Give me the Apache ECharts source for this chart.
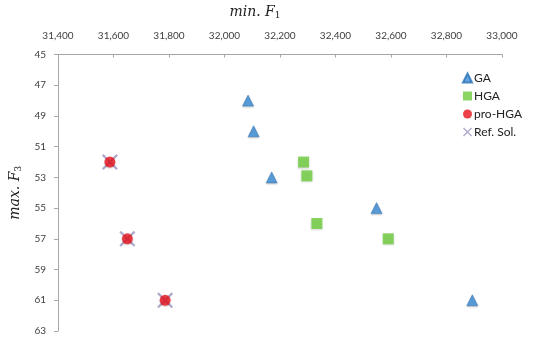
<!DOCTYPE html>
<html>
<head>
<meta charset="utf-8">
<script src="https://cdn.jsdelivr.net/npm/echarts@6/dist/echarts.min.js"></script>
<style>html,body{margin:0;padding:0;background:#fff}#c{width:550px;height:343px}</style>
</head>
<body>
<div id="c"></div>
<script>
var xTicks = { min: 31400, max: 33000, interval: 200 };
var yTicks = { min: 45, max: 63, interval: 2 };
var seriesNames = ['GA', 'HGA', 'pro-HGA', 'Ref. Sol.'];
var gaData = [[32085, 48], [32105, 50], [32170, 53], [32548, 55], [32893, 61]];
var hgaData = [[32285, 52], [32297, 52.9], [32333, 56], [32590, 57]];
var proHgaData = [[31587, 52], [31650, 57], [31786, 61]];
var refSolData = [[31587, 52], [31650, 57], [31786, 61]];

var font = 'Lato';
var chart = echarts.init(document.getElementById('c'));
chart.setOption({
  animation: false,
  backgroundColor: '#fff',
  grid: { left: 58, right: 48, top: 52, bottom: 12 },
  legend: {
    orient: 'vertical',
    left: 457, top: 67,
    itemWidth: 9, itemHeight: 9, itemGap: 6,
    textStyle: { fontFamily: font, fontSize: 12, color: '#222', padding: [0, 0, 0, -3] },
    data: seriesNames
  },
  xAxis: {
    type: 'value', position: 'top',
    min: xTicks.min, max: xTicks.max, interval: xTicks.interval,
    name: '{i|min. F}{s|1}', nameLocation: 'middle', nameGap: 34,
    nameTextStyle: {
      padding: [0, 50, 0, 0],
      rich: {
        i: { fontFamily: 'DejaVu Serif', fontStyle: 'italic', fontSize: 14, color: '#222' },
        s: { fontFamily: 'DejaVu Serif', fontSize: 9, color: '#222', padding: [8, 0, 0, 0] }
      }
    },
    axisLine: { lineStyle: { color: '#a6a6a6', width: 1 } },
    axisTick: { inside: true, length: 3, lineStyle: { color: '#a6a6a6' } },
    splitLine: { show: false },
    axisLabel: {
      fontFamily: font, fontSize: 10, color: '#404040', margin: 14,
      formatter: function (v) { return v.toLocaleString('en-US'); }
    }
  },
  yAxis: {
    type: 'value', inverse: true,
    min: yTicks.min, max: yTicks.max, interval: yTicks.interval,
    name: '{i|max. F}{s|3}', nameLocation: 'middle', nameGap: 30, nameRotate: 90,
    nameTextStyle: {
      rich: {
        i: { fontFamily: 'DejaVu Serif', fontStyle: 'italic', fontSize: 14, color: '#222' },
        s: { fontFamily: 'DejaVu Serif', fontSize: 9, color: '#222', padding: [8, 0, 0, 0] }
      }
    },
    axisLine: { lineStyle: { color: '#a6a6a6', width: 1 } },
    axisTick: { length: 4, lineStyle: { color: '#a6a6a6' } },
    splitLine: { show: false },
    axisLabel: { fontFamily: font, fontSize: 10, color: '#404040', margin: 12 }
  },
  series: [
    {
      name: 'GA', type: 'scatter', data: gaData, symbol: 'triangle', symbolSize: 11, z: 3,
      itemStyle: { color: '#3b8fd9', borderColor: '#2a6fb5', borderWidth: 0.6,
        shadowColor: 'rgba(0,0,0,0.25)', shadowBlur: 2, shadowOffsetY: 1 }
    },
    {
      name: 'HGA', type: 'scatter', data: hgaData, symbol: 'rect', symbolSize: 11, z: 3,
      itemStyle: { color: '#6ccc3c', shadowColor: 'rgba(0,0,0,0.2)', shadowBlur: 2, shadowOffsetY: 1 }
    },
    {
      name: 'pro-HGA', type: 'scatter', data: proHgaData, symbol: 'circle', symbolSize: 11, z: 3,
      itemStyle: { color: '#e8111c', shadowColor: 'rgba(0,0,0,0.2)', shadowBlur: 2, shadowOffsetY: 1 }
    },
    {
      name: 'Ref. Sol.', type: 'scatter', data: refSolData, z: 2,
      symbol: 'path://M0,1 L1,0 L5,4 L9,0 L10,1 L6,5 L10,9 L9,10 L5,6 L1,10 L0,9 L4,5 Z',
      symbolSize: 16,
      itemStyle: { color: '#9b94bf' }
    }
  ]
});
</script>
</body>
</html>
